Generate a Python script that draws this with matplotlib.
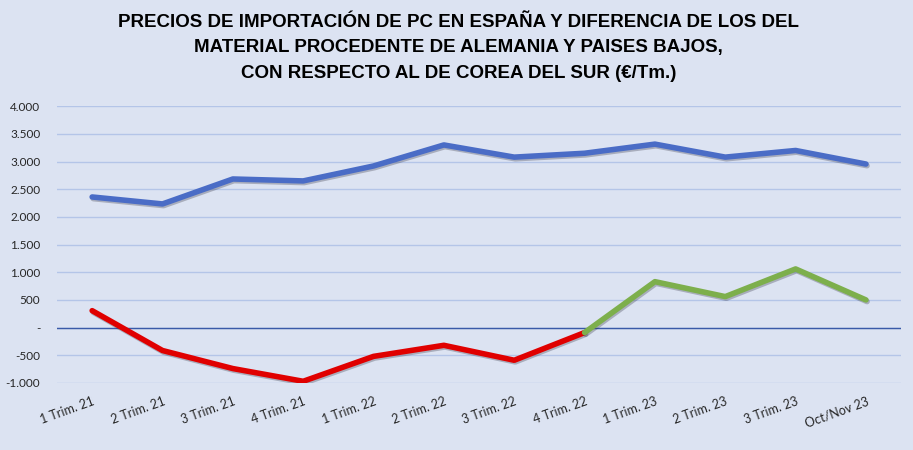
import numpy as np
import matplotlib
matplotlib.use("Agg")
import matplotlib.pyplot as plt
import matplotlib.patheffects as pe
from matplotlib.ticker import FuncFormatter

periodos = ['1 Trim. 21', '2 Trim. 21', '3 Trim. 21', '4 Trim. 21',
            '1 Trim. 22', '2 Trim. 22', '3 Trim. 22', '4 Trim. 22',
            '1 Trim. 23', '2 Trim. 23', '3 Trim. 23', 'Oct/Nov 23']

precio_espana = [2360, 2234, 2685, 2650, 2920, 3300, 3080, 3150, 3315, 3080, 3200, 2955]
dif_negativa = [306, -414, -740, -970, -520, -320, -590, -90]
dif_positiva = [-90, 830, 560, 1060, 500]

fondo = '#dce3f2'
titulo = ('PRECIOS DE IMPORTACIÓN DE PC EN ESPAÑA Y DIFERENCIA DE LOS DEL\n'
          'MATERIAL PROCEDENTE DE ALEMANIA Y PAISES BAJOS,\n'
          'CON RESPECTO AL DE COREA DEL SUR (€/Tm.)')

fig = plt.figure(figsize=(9.13, 4.5), dpi=100, facecolor=fondo)
ax = fig.add_axes([0.0624, 0.149, 0.9246, 0.615], facecolor=fondo)

x = np.arange(len(periodos))
sombra = [pe.SimpleLineShadow(offset=(0.8, -1.2), shadow_color='#303040', alpha=0.3), pe.Normal()]

ax.plot(x, precio_espana, color='#4a6cc6', lw=4.0, solid_capstyle='round',
        path_effects=sombra, zorder=4)
ax.plot(x[:8], dif_negativa, color='#e00000', lw=4.0, solid_capstyle='round',
        path_effects=sombra, zorder=4)
ax.plot(x[7:], dif_positiva, color='#7daf4c', lw=4.0, solid_capstyle='round',
        path_effects=sombra, zorder=5)

ax.set_xlim(-0.5, len(periodos) - 0.5)
ax.set_ylim(-1000, 4000)
ax.set_yticks(np.arange(-1000, 4001, 500))
ax.yaxis.grid(True, color='#b4c5e8', lw=1.0)
ax.set_axisbelow(True)
ax.axhline(0, color='#3a5aa8', lw=1.0, zorder=3)

def fmt(v, pos):
    if v == 0:
        return '-'
    return f'{int(v):,}'.replace(',', '.')

ax.yaxis.set_major_formatter(FuncFormatter(fmt))
ax.set_xticks(x)
ax.set_xticklabels(periodos, rotation=20, ha='right', rotation_mode='anchor')

for s in ax.spines.values():
    s.set_visible(False)
ax.tick_params(length=0, colors='#262626')
ax.tick_params(axis='x', pad=9, labelsize=9)
ax.tick_params(axis='y', pad=12, labelsize=8.5)
for lab in ax.get_xticklabels() + ax.get_yticklabels():
    lab.set_family(['Lato', 'DejaVu Sans'])

fig.text(0.502, 0.968, titulo, ha='center', va='top', fontsize=13.5,
         fontweight='bold', linespacing=1.62,
         family=['Liberation Sans Narrow', 'Liberation Sans', 'DejaVu Sans'])

fig.savefig('out.png', dpi=100, facecolor=fondo)
